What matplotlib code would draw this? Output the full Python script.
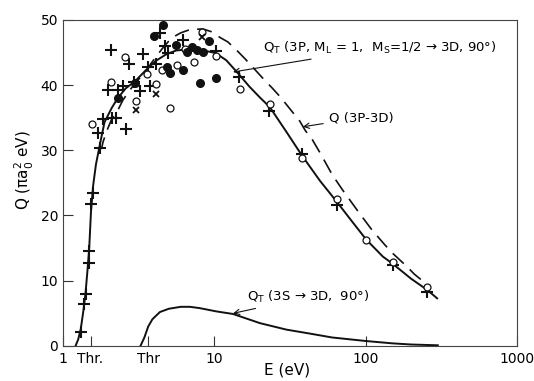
#!/usr/bin/env python3

from matplotlib import pyplot as plt
from matplotlib import ticker
import numpy as np

plt.rcParams['font.family'] = ['DejaVu Sans']
plt.rcParams['mathtext.default'] = 'regular'

# data points (E in eV, Q in pi a0^2 eV)
plus_E = [1.31, 1.38, 1.41, 1.485, 1.485, 1.52, 1.57, 1.70, 1.76, 1.85, 2.10, 2.25,
          1.99, 2.32, 2.48, 2.60, 2.06, 2.73, 2.95, 3.22, 3.39, 3.66, 3.75, 4.13,
          4.37, 4.75, 4.95, 6.17, 10.3, 14.6, 23.1, 38.2, 65, 151, 255]
plus_Q = [2.2, 6.4, 8.0, 12.7, 14.6, 21.8, 23.5, 32.6, 30.3, 34.8, 34.9, 34.9,
          39.2, 39.2, 39.9, 33.3, 45.3, 43.3, 40.5, 39.1, 44.8, 42.8, 39.8, 43.2,
          48.0, 46.0, 44.9, 46.9, 45.2, 41.3, 36.0, 29.4, 21.6, 12.4, 8.2]

open_E = [1.55, 2.07, 2.55, 3.05, 3.6, 4.1, 4.48, 5.1, 5.63, 6.4, 7.35, 8.23,
          10.2, 14.7, 23.3, 38.2, 65, 101, 151, 255]
open_Q = [34.0, 40.5, 44.3, 37.6, 41.7, 40.2, 42.3, 36.5, 43.1, 45.6, 43.5, 48.2,
          44.5, 39.4, 37.1, 28.8, 22.5, 16.3, 12.9, 9.0]

full_E = [2.30, 2.99, 4.0, 4.59, 4.84, 5.09, 5.6, 6.17, 6.55, 7.07, 7.63, 8.41,
          9.2, 8.02, 10.2]
full_Q = [38.0, 40.3, 47.5, 49.2, 42.8, 41.9, 46.1, 42.3, 45.1, 45.9, 45.4, 45.0,
          46.7, 40.3, 41.1]

cross_E = [3.05, 4.09, 8.23]
cross_Q = [36.2, 38.7, 47.3]

# Q_T(3P, ML=1, MS=1/2 -> 3D, 90 deg)
qt3p_E = [1.21, 1.26, 1.31, 1.36, 1.41, 1.45, 1.49, 1.53, 1.58, 1.65, 1.75, 1.88,
          2.1, 2.3, 2.6, 3.0, 3.5, 4.1, 4.8, 5.6, 7.0, 8.5, 10.2, 12, 14.6, 17,
          20, 23.3, 30, 38.2, 50, 65, 80, 101, 130, 151, 200, 255, 297]
qt3p_Q = [0, 1.0, 2.6, 5.2, 8.2, 11.5, 15, 20.5, 24.5, 27.8, 30.8, 34.3,
          36.5, 38.0, 39.5, 40.6, 42.2, 43.7, 44.7, 45.3, 45.5, 45.3, 44.9, 43.8,
          41.6, 39.8, 38.1, 36.6, 32.8, 29.1, 25.3, 22.0, 19.3, 16.3, 13.7, 12.6,
          10.3, 8.6, 7.3]

# Q(3P-3D)
q3p_E = [1.70, 1.80, 1.84, 1.95, 2.1, 2.31, 2.49, 2.7, 3.0, 3.5, 3.9, 4.5, 5.2,
         6.0, 6.9, 8.4, 9.5, 10.9, 12.3, 14.1, 16, 18.5, 21, 24, 27, 30, 33, 36,
         40, 44, 50, 60, 70, 90, 110, 134, 151, 187, 210, 265]
q3p_Q = [30.3, 30.3, 31.3, 33.0, 34.8, 36.2, 37.7, 38.9, 40.3, 42.0, 43.6, 45.5,
         47.2, 48.0, 48.5, 48.6, 48.2, 47.3, 46.6, 45.3, 44.0, 42.4, 41.0, 39.6,
         38.3, 37.0, 35.8, 34.8, 33.0, 31.8, 29.6, 26.3, 24.0, 20.5, 17.8, 15.5,
         14.2, 12.2, 11.0, 9.1]

# Q_T(3S -> 3D, 90 deg)
qt3s_E = [3.25, 3.45, 3.66, 3.9, 4.37, 5.0, 6.0, 6.9, 8.0, 10.3, 13.3, 20, 30,
          42.7, 60, 101, 150, 200, 300]
qt3s_Q = [0, 1.3, 3.0, 4.1, 5.2, 5.7, 6.0, 6.0, 5.8, 5.3, 4.9, 3.5, 2.5,
          1.9, 1.3, 0.75, 0.4, 0.22, 0.1]

xtick_pos = [1, 1.52, 3.66, 10, 100, 1000]
xtick_lab = ['1', 'Thr.', 'Thr', '10', '100', '1000']

fig = plt.figure(figsize=(5.34, 3.81), dpi=100)
ax = fig.add_axes([0.118, 0.092, 0.850, 0.856])

k = '#111111'
ax.plot(qt3p_E, qt3p_Q, color=k, lw=1.4)
ax.plot(q3p_E, q3p_Q, color=k, lw=1.2, dashes=(9, 5))
ax.plot(qt3s_E, qt3s_Q, color=k, lw=1.4)

ax.plot(plus_E, plus_Q, ls='none', marker='+', ms=8, mew=1.5, color=k)
ax.plot(open_E, open_Q, ls='none', marker='o', ms=5, mew=0.9, mfc='white', mec=k)
ax.plot(full_E, full_Q, ls='none', marker='o', ms=5.5, color=k)
ax.plot(cross_E, cross_Q, ls='none', marker='x', ms=5, mew=1.3, color=k)

ax.set_xscale('log')
ax.set_xlim(1, 1000)
ax.set_ylim(0, 50)

ax.set_xticks(xtick_pos, xtick_lab)
ax.xaxis.set_minor_locator(ticker.NullLocator())
ax.set_yticks([0, 10, 20, 30, 40, 50])
ax.tick_params(direction='in', length=7, width=0.8, labelsize=10, color='#333333')
ax.tick_params(axis='x', pad=4)
for s in ax.spines.values():
    s.set_linewidth(0.8)
    s.set_color('#444444')

ax.set_xlabel('E (eV)', fontsize=11)
ax.xaxis.set_label_coords(0.493, -0.05)
ax.set_ylabel(r'Q ($\pi a_0^2$ eV)', fontsize=11)
ax.yaxis.set_label_coords(-0.06, 0.54)

arr = dict(arrowstyle='->', color=k, lw=0.8, shrinkA=2, shrinkB=0)
ax.annotate(r'$Q_T$ (3P, $M_L$ = 1,  $M_S$=1/2 → 3D, 90°)', xy=(13.3, 42.0),
            xytext=(20.9, 45.7), va='center', ha='left', fontsize=9.5, arrowprops=arr)
ax.annotate('Q (3P-3D)', xy=(38.5, 33.6), xytext=(57, 35.0),
            va='center', ha='left', fontsize=9.5, arrowprops=arr)
ax.annotate(r'$Q_T$ (3S → 3D,  90°)', xy=(13.3, 5.0), xytext=(16.4, 7.5),
            va='center', ha='left', fontsize=9.5, arrowprops=arr)

plt.savefig('out.png', dpi=100)
plt.close()
